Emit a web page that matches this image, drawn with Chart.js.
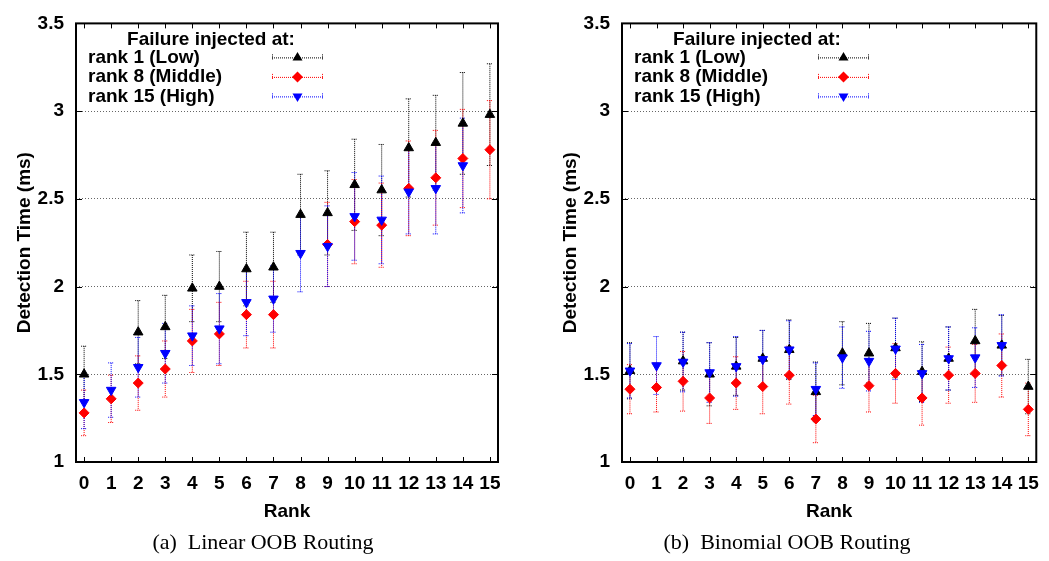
<!DOCTYPE html>
<html>
<head>
<meta charset="utf-8">
<script src="https://cdn.jsdelivr.net/npm/chart.js@4.4.1/dist/chart.umd.min.js"></script>
<style>
  body { margin: 0; background: #fff; width: 1049px; height: 561px; position: relative; overflow: hidden; }
  .panel { position: absolute; top: 0; }
  .caption { position: absolute; top: 529px; width: 400px; text-align: center;
             font-family: "Liberation Serif", "Times New Roman", serif; font-size: 22px; color: #000; white-space: pre; }
</style>
</head>
<body>
<div class="panel" style="left:0px"><canvas id="linearChart" width="520" height="530"></canvas></div>
<div class="panel" style="left:546px"><canvas id="binomialChart" width="503" height="530"></canvas></div>
<div class="caption" style="left:63px">(a)  Linear OOB Routing</div>
<div class="caption" style="left:587px">(b)  Binomial OOB Routing</div>
<script>
// data
const ranks = [0, 1, 2, 3, 4, 5, 6, 7, 8, 9, 10, 11, 12, 13, 14, 15];
const yTicks = [1, 1.5, 2, 2.5, 3, 3.5];
const legendTitle = 'Failure injected at:';
const legendLabels = ['rank 1 (Low)', 'rank 8 (Middle)', 'rank 15 (High)'];

// linear OOB routing
const linLow     = [1.50, null, 1.74, 1.77, 1.99, 2.00, 2.10, 2.11, 2.41, 2.42, 2.58, 2.55, 2.79, 2.82, 2.93, 2.98];
const linLowErr  = [0.16, null, 0.18, 0.18, 0.19, 0.20, 0.21, 0.20, 0.23, 0.24, 0.26, 0.26, 0.28, 0.27, 0.29, 0.29];
const linMid     = [1.28, 1.36, 1.45, 1.53, 1.69, 1.73, 1.84, 1.84, null, 2.24, 2.37, 2.35, 2.56, 2.62, 2.73, 2.78];
const linMidErr  = [0.13, 0.135, 0.155, 0.16, 0.18, 0.18, 0.19, 0.19, null, 0.24, 0.24, 0.24, 0.27, 0.27, 0.28, 0.28];
const linHigh    = [1.34, 1.41, 1.54, 1.62, 1.72, 1.76, 1.91, 1.93, 2.19, 2.23, 2.40, 2.38, 2.54, 2.56, 2.69, null];
const linHighErr = [0.15, 0.155, 0.17, 0.17, 0.17, 0.20, 0.19, 0.19, 0.22, 0.23, 0.25, 0.25, 0.24, 0.26, 0.27, null];

// binomial OOB routing
const binLow     = [1.52, null, 1.575, 1.50, 1.545, 1.59, 1.64, 1.40, 1.62, 1.62, 1.65, 1.515, 1.59, 1.69, 1.665, 1.43];
const binLowErr  = [0.16, null, 0.165, 0.18, 0.165, 0.16, 0.17, 0.17, 0.18, 0.17, 0.17, 0.17, 0.18, 0.18, 0.17, 0.155];
const binMid     = [1.415, 1.425, 1.46, 1.365, 1.45, 1.43, 1.495, 1.245, null, 1.435, 1.505, 1.365, 1.495, 1.505, 1.55, 1.30];
const binMidErr  = [0.14, 0.14, 0.17, 0.145, 0.15, 0.155, 0.165, 0.135, null, 0.15, 0.17, 0.155, 0.16, 0.165, 0.18, 0.15];
const binHigh    = [1.52, 1.55, 1.57, 1.51, 1.545, 1.585, 1.64, 1.415, 1.595, 1.575, 1.645, 1.505, 1.59, 1.595, 1.665, null];
const binHighErr = [0.155, 0.165, 0.17, 0.17, 0.17, 0.165, 0.165, 0.15, 0.175, 0.17, 0.175, 0.165, 0.18, 0.17, 0.175, null];

const colors = ['#000000', '#ff0000', '#0000ff'];
const FONT = '"Liberation Sans", Arial, Helvetica, sans-serif';

Chart.defaults.font.family = FONT;
Chart.defaults.font.size = 19;
Chart.defaults.font.weight = 'bold';
Chart.defaults.color = '#000';

// simple marker shapes for the legend samples
function drawMarker(ctx, kind, x, y, color) {
  ctx.save();
  ctx.fillStyle = color;
  ctx.setLineDash([]);
  ctx.beginPath();
  if (kind === 'up') {
    ctx.moveTo(x, y - 5.5); ctx.lineTo(x + 5, y + 3); ctx.lineTo(x - 5, y + 3);
  } else if (kind === 'down') {
    ctx.moveTo(x, y + 5.5); ctx.lineTo(x + 5, y - 3); ctx.lineTo(x - 5, y - 3);
  } else {
    ctx.moveTo(x, y - 5.5); ctx.lineTo(x + 5.5, y); ctx.lineTo(x, y + 5.5); ctx.lineTo(x - 5.5, y);
  }
  ctx.closePath();
  ctx.fill();
  ctx.restore();
}

const errorBars = {
  id: 'errorBars',
  beforeDatasetsDraw(chart) {
    const ctx = chart.ctx;
    const xs = chart.scales.x, ys = chart.scales.y;
    ctx.save();
    ctx.lineWidth = 1;
    ctx.setLineDash([1, 1]);
    chart.data.datasets.forEach(ds => {
      ctx.strokeStyle = ds.borderColor;
      ds.data.forEach((p, i) => {
        if (p.y === null) return;
        const e = ds.errors[i];
        const x = xs.getPixelForValue(p.x);
        const top = ys.getPixelForValue(p.y + e);
        const bot = ys.getPixelForValue(p.y - e);
        ctx.beginPath();
        ctx.moveTo(x, top); ctx.lineTo(x, bot);
        ctx.moveTo(x - 3, top); ctx.lineTo(x + 3, top);
        ctx.moveTo(x - 3, bot); ctx.lineTo(x + 3, bot);
        ctx.stroke();
      });
    });
    ctx.restore();
  }
};

const frame = {
  id: 'frame',
  afterDraw(chart) {
    const ctx = chart.ctx;
    const a = chart.chartArea;
    const xs = chart.scales.x, ys = chart.scales.y;
    ctx.save();
    ctx.strokeStyle = '#000';
    ctx.setLineDash([]);
    ctx.lineWidth = 1;
    ctx.beginPath();
    xs.ticks.forEach(t => {
      const x = Math.round(xs.getPixelForValue(t.value)) + 0.5;
      ctx.moveTo(x, a.bottom); ctx.lineTo(x, a.bottom - 5);
      ctx.moveTo(x, a.top); ctx.lineTo(x, a.top + 5);
    });
    ys.ticks.forEach(t => {
      const y = Math.round(ys.getPixelForValue(t.value)) + 0.5;
      ctx.moveTo(a.left, y); ctx.lineTo(a.left + 6, y);
      ctx.moveTo(a.right, y); ctx.lineTo(a.right - 6, y);
    });
    ctx.stroke();
    ctx.lineWidth = 2;
    ctx.strokeRect(a.left, a.top, a.right - a.left, a.bottom - a.top);

    // legend
    const kinds = ['up', 'diamond', 'down'];
    ctx.fillStyle = '#000';
    ctx.font = 'bold 19px ' + FONT;
    ctx.textBaseline = 'middle';
    ctx.textAlign = 'center';
    ctx.fillText(legendTitle, a.left + 135, a.top + 16);
    ctx.textAlign = 'left';
    legendLabels.forEach((lab, k) => {
      const y = a.top + 34 + k * 19.5;
      ctx.fillStyle = '#000';
      ctx.fillText(lab, a.left + 12, y);
      const x0 = a.left + 196, x1 = a.left + 247;
      ctx.strokeStyle = colors[k];
      ctx.lineWidth = 1;
      ctx.setLineDash([1, 1]);
      ctx.beginPath();
      ctx.moveTo(x0, y + 0.5); ctx.lineTo(x1, y + 0.5);
      ctx.moveTo(x0 + 0.5, y - 3); ctx.lineTo(x0 + 0.5, y + 3);
      ctx.moveTo(x1 - 0.5, y - 3); ctx.lineTo(x1 - 0.5, y + 3);
      ctx.stroke();
      drawMarker(ctx, kinds[k], (x0 + x1) / 2, y, colors[k]);
    });
    ctx.restore();
  }
};

function series(vals, errs, k, style, rot, radius) {
  return {
    label: legendLabels[k],
    data: ranks.map((r, i) => ({ x: r, y: vals[i] })),
    errors: errs,
    showLine: false,
    borderColor: colors[k],
    backgroundColor: colors[k],
    pointStyle: style,
    rotation: rot,
    pointRadius: radius,
    pointBorderWidth: 1,
    order: 2 - k
  };
}

function makeChart(id, sets, padRight) {
  return new Chart(document.getElementById(id), {
    type: 'scatter',
    data: { datasets: sets },
    options: {
      responsive: false,
      animation: false,
      devicePixelRatio: 1,
      events: [],
      layout: { padding: { top: 15, right: padRight, left: 0, bottom: 0 } },
      plugins: { legend: { display: false }, tooltip: { enabled: false } },
      scales: {
        x: {
          type: 'linear',
          min: -0.3,
          max: 15.3,
          afterBuildTicks: s => { s.ticks = ranks.map(v => ({ value: v })); },
          afterFit: s => { s.height = 68; },
          grid: { display: false, drawTicks: false },
          border: { display: false },
          ticks: { padding: 10, maxRotation: 0, autoSkip: false, callback: v => String(v) },
          title: { display: true, text: 'Rank', padding: { top: 0, bottom: 7 } }
        },
        y: {
          min: 1,
          max: 3.5,
          afterBuildTicks: s => { s.ticks = yTicks.map(v => ({ value: v })); },
          afterFit: s => { s.width = 76; },
          grid: { color: 'rgba(0,0,0,0.6)', lineWidth: 1, drawTicks: false },
          border: { display: false, dash: [1, 2] },
          ticks: { padding: 12, callback: v => String(v) },
          title: { display: true, text: 'Detection Time (ms)', padding: { top: 13, bottom: 0 } }
        }
      }
    },
    plugins: [errorBars, frame]
  });
}

makeChart('linearChart', [
  series(linLow, linLowErr, 0, 'triangle', 0, 5.5),
  series(linMid, linMidErr, 1, 'rectRot', 0, 5),
  series(linHigh, linHighErr, 2, 'triangle', 180, 5.5)
], 22);

makeChart('binomialChart', [
  series(binLow, binLowErr, 0, 'triangle', 0, 5.5),
  series(binMid, binMidErr, 1, 'rectRot', 0, 5),
  series(binHigh, binHighErr, 2, 'triangle', 180, 5.5)
], 6);
</script>
</body>
</html>
